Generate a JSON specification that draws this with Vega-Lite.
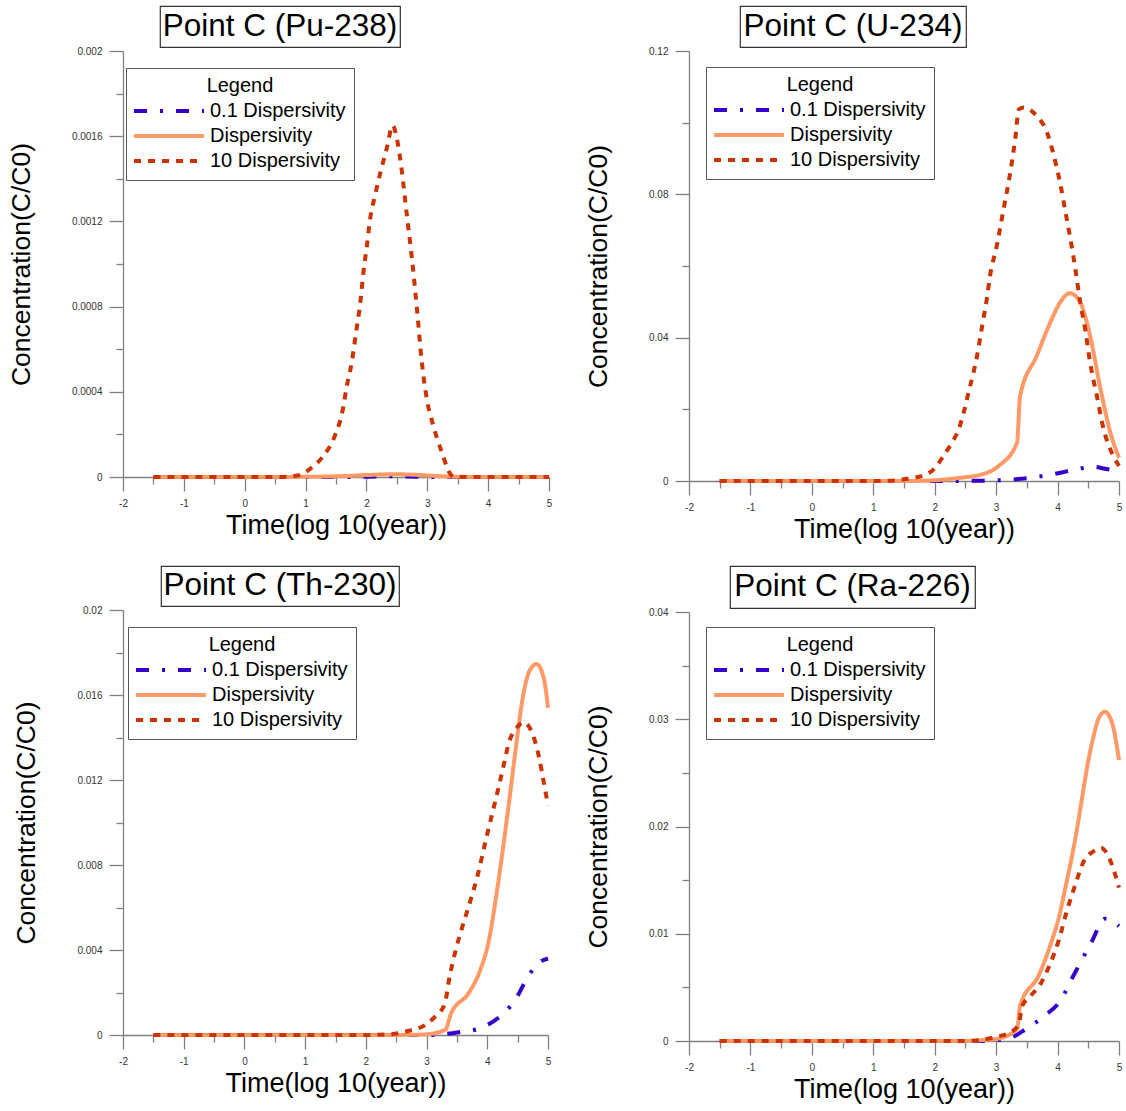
{
"$schema": "https://vega.github.io/schema/vega-lite/v6.json",
"padding": {"left": 8, "top": 5, "right": 2, "bottom": 2},
"background": "white",
"config": {
  "view": {"stroke": null},
  "font": "Liberation Sans",
  "axis": {"grid": false, "domainColor": "#808080", "tickColor": "#808080", "domainWidth": 1.3, "tickWidth": 1.3, "labelColor": "#333", "labelFont": "Liberation Sans", "labelFontSize": 10, "titleFont": "Liberation Sans", "titleFontWeight": "normal", "titleColor": "#000", "labelFlush": false, "labelOverlap": false},
  "axisX": {"titleFontSize": 27, "labelPadding": 7, "titlePadding": 4},
  "axisY": {"titleFontSize": 26.5, "labelPadding": 7},
  "legend": {"titleFontSize": 20, "titleFontWeight": "normal", "titleColor": "#000", "titleFont": "Liberation Sans", "titleAnchor": "middle", "titlePadding": 4, "labelFont": "Liberation Sans", "labelFontSize": 20, "labelColor": "#000", "labelOffset": 4, "symbolOffset": -2, "labelLimit": 400, "symbolType": "stroke", "symbolSize": 4900, "symbolStrokeWidth": 4, "clipHeight": 22, "rowPadding": 3, "padding": 8, "strokeColor": "#555", "fillColor": "white"}
},
"datasets": {
"pu": [
{"series":"0.1 Dispersivity","t":-1.5,"c":0},{"series":"0.1 Dispersivity","t":-1,"c":0},{"series":"0.1 Dispersivity","t":-0.5,"c":0},{"series":"0.1 Dispersivity","t":0,"c":0},{"series":"0.1 Dispersivity","t":0.5,"c":0},{"series":"0.1 Dispersivity","t":1,"c":0},{"series":"0.1 Dispersivity","t":1.5,"c":0},{"series":"0.1 Dispersivity","t":2,"c":0.000001},{"series":"0.1 Dispersivity","t":2.4,"c":0.000003},{"series":"0.1 Dispersivity","t":2.8,"c":0.000001},{"series":"0.1 Dispersivity","t":3.2,"c":0},{"series":"0.1 Dispersivity","t":4,"c":0},{"series":"0.1 Dispersivity","t":5,"c":0},
{"series":"Dispersivity","t":-1.5,"c":0},{"series":"Dispersivity","t":-1,"c":0},{"series":"Dispersivity","t":-0.5,"c":0},{"series":"Dispersivity","t":0,"c":0},{"series":"Dispersivity","t":0.5,"c":0},{"series":"Dispersivity","t":1,"c":0.000001},{"series":"Dispersivity","t":1.5,"c":0.000003},{"series":"Dispersivity","t":2,"c":0.000009},{"series":"Dispersivity","t":2.45,"c":0.000013},{"series":"Dispersivity","t":2.9,"c":0.000009},{"series":"Dispersivity","t":3.2,"c":0.000004},{"series":"Dispersivity","t":3.5,"c":0.000001},{"series":"Dispersivity","t":4,"c":0},{"series":"Dispersivity","t":5,"c":0},
{"series":"10 Dispersivity","t":-1.5,"c":0},{"series":"10 Dispersivity","t":-1,"c":0},{"series":"10 Dispersivity","t":-0.5,"c":0},{"series":"10 Dispersivity","t":0,"c":0},{"series":"10 Dispersivity","t":0.5,"c":0},{"series":"10 Dispersivity","t":0.7,"c":0.000002},{"series":"10 Dispersivity","t":0.885,"c":0.000008},{"series":"10 Dispersivity","t":1.1,"c":0.000044},{"series":"10 Dispersivity","t":1.27,"c":0.000091},{"series":"10 Dispersivity","t":1.49,"c":0.0002},{"series":"10 Dispersivity","t":1.6,"c":0.0003},{"series":"10 Dispersivity","t":1.68,"c":0.00043},{"series":"10 Dispersivity","t":1.76,"c":0.00054},{"series":"10 Dispersivity","t":1.83,"c":0.00068},{"series":"10 Dispersivity","t":1.9,"c":0.00082},{"series":"10 Dispersivity","t":1.95,"c":0.00096},{"series":"10 Dispersivity","t":2.01,"c":0.00109},{"series":"10 Dispersivity","t":2.06,"c":0.00121},{"series":"10 Dispersivity","t":2.14,"c":0.00132},{"series":"10 Dispersivity","t":2.23,"c":0.00143},{"series":"10 Dispersivity","t":2.34,"c":0.00155},{"series":"10 Dispersivity","t":2.43,"c":0.00165},{"series":"10 Dispersivity","t":2.5,"c":0.00159},{"series":"10 Dispersivity","t":2.58,"c":0.00144},{"series":"10 Dispersivity","t":2.66,"c":0.00124},{"series":"10 Dispersivity","t":2.75,"c":0.00102},{"series":"10 Dispersivity","t":2.83,"c":0.00079},{"series":"10 Dispersivity","t":2.91,"c":0.00054},{"series":"10 Dispersivity","t":2.99,"c":0.00037},{"series":"10 Dispersivity","t":3.1,"c":0.00024},{"series":"10 Dispersivity","t":3.24,"c":0.000115},{"series":"10 Dispersivity","t":3.38,"c":0.000013},{"series":"10 Dispersivity","t":3.45,"c":0},{"series":"10 Dispersivity","t":4,"c":0},{"series":"10 Dispersivity","t":4.5,"c":0},{"series":"10 Dispersivity","t":5,"c":0}
],
"u": [
{"series":"0.1 Dispersivity","t":-1.5,"c":0},{"series":"0.1 Dispersivity","t":-1,"c":0},{"series":"0.1 Dispersivity","t":-0.5,"c":0},{"series":"0.1 Dispersivity","t":0,"c":0},{"series":"0.1 Dispersivity","t":0.5,"c":0},{"series":"0.1 Dispersivity","t":1,"c":0},{"series":"0.1 Dispersivity","t":1.5,"c":0},{"series":"0.1 Dispersivity","t":2,"c":0},{"series":"0.1 Dispersivity","t":2.31,"c":0},{"series":"0.1 Dispersivity","t":2.8,"c":0.0001},{"series":"0.1 Dispersivity","t":3.18,"c":0.0003},{"series":"0.1 Dispersivity","t":3.56,"c":0.0009},{"series":"0.1 Dispersivity","t":3.99,"c":0.0021},{"series":"0.1 Dispersivity","t":4.29,"c":0.0032},{"series":"0.1 Dispersivity","t":4.59,"c":0.004},{"series":"0.1 Dispersivity","t":4.75,"c":0.0035},{"series":"0.1 Dispersivity","t":5,"c":0.0028},
{"series":"Dispersivity","t":-1.5,"c":0},{"series":"Dispersivity","t":-1,"c":0},{"series":"Dispersivity","t":-0.5,"c":0},{"series":"Dispersivity","t":0,"c":0},{"series":"Dispersivity","t":0.5,"c":0},{"series":"Dispersivity","t":1,"c":0},{"series":"Dispersivity","t":1.5,"c":0},{"series":"Dispersivity","t":2,"c":0.0002},{"series":"Dispersivity","t":2.2,"c":0.0005},{"series":"Dispersivity","t":2.47,"c":0.001},{"series":"Dispersivity","t":2.74,"c":0.0017},{"series":"Dispersivity","t":3.04,"c":0.0042},{"series":"Dispersivity","t":3.34,"c":0.0107},{"series":"Dispersivity","t":3.39,"c":0.0237},{"series":"Dispersivity","t":3.66,"c":0.0349},{"series":"Dispersivity","t":3.88,"c":0.0442},{"series":"Dispersivity","t":4.04,"c":0.0498},{"series":"Dispersivity","t":4.2,"c":0.0524},{"series":"Dispersivity","t":4.37,"c":0.0498},{"series":"Dispersivity","t":4.53,"c":0.0405},{"series":"Dispersivity","t":4.7,"c":0.0256},{"series":"Dispersivity","t":4.86,"c":0.0135},{"series":"Dispersivity","t":5,"c":0.0065},
{"series":"10 Dispersivity","t":-1.5,"c":0},{"series":"10 Dispersivity","t":-1,"c":0},{"series":"10 Dispersivity","t":-0.5,"c":0},{"series":"10 Dispersivity","t":0,"c":0},{"series":"10 Dispersivity","t":0.5,"c":0},{"series":"10 Dispersivity","t":1,"c":0},{"series":"10 Dispersivity","t":1.3,"c":0.0001},{"series":"10 Dispersivity","t":1.55,"c":0.00065},{"series":"10 Dispersivity","t":1.82,"c":0.0016},{"series":"10 Dispersivity","t":2.01,"c":0.0037},{"series":"10 Dispersivity","t":2.14,"c":0.007},{"series":"10 Dispersivity","t":2.28,"c":0.0107},{"series":"10 Dispersivity","t":2.39,"c":0.0144},{"series":"10 Dispersivity","t":2.47,"c":0.019},{"series":"10 Dispersivity","t":2.55,"c":0.0247},{"series":"10 Dispersivity","t":2.63,"c":0.0302},{"series":"10 Dispersivity","t":2.69,"c":0.035},{"series":"10 Dispersivity","t":2.74,"c":0.04},{"series":"10 Dispersivity","t":2.8,"c":0.046},{"series":"10 Dispersivity","t":2.85,"c":0.051},{"series":"10 Dispersivity","t":2.9,"c":0.0572},{"series":"10 Dispersivity","t":3.01,"c":0.0656},{"series":"10 Dispersivity","t":3.12,"c":0.0758},{"series":"10 Dispersivity","t":3.23,"c":0.0861},{"series":"10 Dispersivity","t":3.31,"c":0.0954},{"series":"10 Dispersivity","t":3.37,"c":0.1037},{"series":"10 Dispersivity","t":3.45,"c":0.1042},{"series":"10 Dispersivity","t":3.66,"c":0.1019},{"series":"10 Dispersivity","t":3.83,"c":0.0972},{"series":"10 Dispersivity","t":3.94,"c":0.0907},{"series":"10 Dispersivity","t":4.04,"c":0.0833},{"series":"10 Dispersivity","t":4.13,"c":0.0749},{"series":"10 Dispersivity","t":4.21,"c":0.0675},{"series":"10 Dispersivity","t":4.29,"c":0.0591},{"series":"10 Dispersivity","t":4.37,"c":0.0498},{"series":"10 Dispersivity","t":4.45,"c":0.0423},{"series":"10 Dispersivity","t":4.53,"c":0.033},{"series":"10 Dispersivity","t":4.64,"c":0.0237},{"series":"10 Dispersivity","t":4.75,"c":0.0144},{"series":"10 Dispersivity","t":4.86,"c":0.0088},{"series":"10 Dispersivity","t":5,"c":0.0042}
],
"th": [
{"series":"0.1 Dispersivity","t":-1.5,"c":0},{"series":"0.1 Dispersivity","t":-1,"c":0},{"series":"0.1 Dispersivity","t":-0.5,"c":0},{"series":"0.1 Dispersivity","t":0,"c":0},{"series":"0.1 Dispersivity","t":0.5,"c":0},{"series":"0.1 Dispersivity","t":1,"c":0},{"series":"0.1 Dispersivity","t":1.5,"c":0},{"series":"0.1 Dispersivity","t":2,"c":0},{"series":"0.1 Dispersivity","t":2.5,"c":0},{"series":"0.1 Dispersivity","t":3.04,"c":0},{"series":"0.1 Dispersivity","t":3.53,"c":0.00013},{"series":"0.1 Dispersivity","t":3.86,"c":0.0003},{"series":"0.1 Dispersivity","t":4,"c":0.00047},{"series":"0.1 Dispersivity","t":4.22,"c":0.0009},{"series":"0.1 Dispersivity","t":4.47,"c":0.0017},{"series":"0.1 Dispersivity","t":4.66,"c":0.0027},{"series":"0.1 Dispersivity","t":4.85,"c":0.0034},{"series":"0.1 Dispersivity","t":5,"c":0.0036},
{"series":"Dispersivity","t":-1.5,"c":0},{"series":"Dispersivity","t":-1,"c":0},{"series":"Dispersivity","t":-0.5,"c":0},{"series":"Dispersivity","t":0,"c":0},{"series":"Dispersivity","t":0.5,"c":0},{"series":"Dispersivity","t":1,"c":0},{"series":"Dispersivity","t":1.5,"c":0},{"series":"Dispersivity","t":2,"c":0},{"series":"Dispersivity","t":2.5,"c":0},{"series":"Dispersivity","t":2.98,"c":0.00003},{"series":"Dispersivity","t":3.31,"c":0.00025},{"series":"Dispersivity","t":3.4,"c":0.00099},{"series":"Dispersivity","t":3.7,"c":0.002},{"series":"Dispersivity","t":3.89,"c":0.0031},{"series":"Dispersivity","t":4.03,"c":0.0045},{"series":"Dispersivity","t":4.14,"c":0.0064},{"series":"Dispersivity","t":4.25,"c":0.0086},{"series":"Dispersivity","t":4.36,"c":0.011},{"series":"Dispersivity","t":4.47,"c":0.0135},{"series":"Dispersivity","t":4.58,"c":0.0158},{"series":"Dispersivity","t":4.69,"c":0.0171},{"series":"Dispersivity","t":4.81,"c":0.01746},{"series":"Dispersivity","t":4.93,"c":0.0168},{"series":"Dispersivity","t":5,"c":0.0154},
{"series":"10 Dispersivity","t":-1.5,"c":0},{"series":"10 Dispersivity","t":-1,"c":0},{"series":"10 Dispersivity","t":-0.5,"c":0},{"series":"10 Dispersivity","t":0,"c":0},{"series":"10 Dispersivity","t":0.5,"c":0},{"series":"10 Dispersivity","t":1,"c":0},{"series":"10 Dispersivity","t":1.5,"c":0},{"series":"10 Dispersivity","t":2,"c":0},{"series":"10 Dispersivity","t":2.38,"c":0.00003},{"series":"10 Dispersivity","t":2.71,"c":0.0002},{"series":"10 Dispersivity","t":2.96,"c":0.00044},{"series":"10 Dispersivity","t":3.15,"c":0.0009},{"series":"10 Dispersivity","t":3.3,"c":0.00146},{"series":"10 Dispersivity","t":3.37,"c":0.0026},{"series":"10 Dispersivity","t":3.48,"c":0.004},{"series":"10 Dispersivity","t":3.59,"c":0.0051},{"series":"10 Dispersivity","t":3.73,"c":0.0064},{"series":"10 Dispersivity","t":3.84,"c":0.0075},{"series":"10 Dispersivity","t":3.97,"c":0.0091},{"series":"10 Dispersivity","t":4.08,"c":0.0104},{"series":"10 Dispersivity","t":4.19,"c":0.0117},{"series":"10 Dispersivity","t":4.27,"c":0.0127},{"series":"10 Dispersivity","t":4.36,"c":0.0138},{"series":"10 Dispersivity","t":4.47,"c":0.0144},{"series":"10 Dispersivity","t":4.6,"c":0.01471},{"series":"10 Dispersivity","t":4.74,"c":0.0142},{"series":"10 Dispersivity","t":4.85,"c":0.0131},{"series":"10 Dispersivity","t":4.93,"c":0.0119},{"series":"10 Dispersivity","t":5,"c":0.0108}
],
"ra": [
{"series":"0.1 Dispersivity","t":-1.5,"c":0},{"series":"0.1 Dispersivity","t":-1,"c":0},{"series":"0.1 Dispersivity","t":-0.5,"c":0},{"series":"0.1 Dispersivity","t":0,"c":0},{"series":"0.1 Dispersivity","t":0.5,"c":0},{"series":"0.1 Dispersivity","t":1,"c":0},{"series":"0.1 Dispersivity","t":1.5,"c":0},{"series":"0.1 Dispersivity","t":2,"c":0},{"series":"0.1 Dispersivity","t":2.5,"c":0},{"series":"0.1 Dispersivity","t":2.8,"c":0},{"series":"0.1 Dispersivity","t":3.23,"c":0.0003},{"series":"0.1 Dispersivity","t":3.48,"c":0.0011},{"series":"0.1 Dispersivity","t":3.8,"c":0.0024},{"series":"0.1 Dispersivity","t":4.05,"c":0.0038},{"series":"0.1 Dispersivity","t":4.24,"c":0.0059},{"series":"0.1 Dispersivity","t":4.4,"c":0.0076},{"series":"0.1 Dispersivity","t":4.56,"c":0.0093},{"series":"0.1 Dispersivity","t":4.77,"c":0.0114},{"series":"0.1 Dispersivity","t":5,"c":0.0107},
{"series":"Dispersivity","t":-1.5,"c":0},{"series":"Dispersivity","t":-1,"c":0},{"series":"Dispersivity","t":-0.5,"c":0},{"series":"Dispersivity","t":0,"c":0},{"series":"Dispersivity","t":0.5,"c":0},{"series":"Dispersivity","t":1,"c":0},{"series":"Dispersivity","t":1.5,"c":0},{"series":"Dispersivity","t":2,"c":0},{"series":"Dispersivity","t":2.5,"c":0},{"series":"Dispersivity","t":2.8,"c":0.0001},{"series":"Dispersivity","t":3.01,"c":0.0002},{"series":"Dispersivity","t":3.34,"c":0.0011},{"series":"Dispersivity","t":3.39,"c":0.0033},{"series":"Dispersivity","t":3.69,"c":0.0061},{"series":"Dispersivity","t":3.88,"c":0.0089},{"series":"Dispersivity","t":4.02,"c":0.0115},{"series":"Dispersivity","t":4.15,"c":0.0149},{"series":"Dispersivity","t":4.29,"c":0.0189},{"series":"Dispersivity","t":4.4,"c":0.0227},{"series":"Dispersivity","t":4.48,"c":0.0255},{"series":"Dispersivity","t":4.59,"c":0.0285},{"series":"Dispersivity","t":4.67,"c":0.0301},{"series":"Dispersivity","t":4.77,"c":0.0307},{"series":"Dispersivity","t":4.89,"c":0.0296},{"series":"Dispersivity","t":5,"c":0.0262},
{"series":"10 Dispersivity","t":-1.5,"c":0},{"series":"10 Dispersivity","t":-1,"c":0},{"series":"10 Dispersivity","t":-0.5,"c":0},{"series":"10 Dispersivity","t":0,"c":0},{"series":"10 Dispersivity","t":0.5,"c":0},{"series":"10 Dispersivity","t":1,"c":0},{"series":"10 Dispersivity","t":1.5,"c":0},{"series":"10 Dispersivity","t":2,"c":0},{"series":"10 Dispersivity","t":2.5,"c":0},{"series":"10 Dispersivity","t":2.74,"c":0.0001},{"series":"10 Dispersivity","t":3.01,"c":0.0004},{"series":"10 Dispersivity","t":3.23,"c":0.0008},{"series":"10 Dispersivity","t":3.37,"c":0.0016},{"series":"10 Dispersivity","t":3.42,"c":0.0032},{"series":"10 Dispersivity","t":3.56,"c":0.0042},{"series":"10 Dispersivity","t":3.72,"c":0.0053},{"series":"10 Dispersivity","t":3.88,"c":0.0072},{"series":"10 Dispersivity","t":4.02,"c":0.0094},{"series":"10 Dispersivity","t":4.15,"c":0.0121},{"series":"10 Dispersivity","t":4.29,"c":0.0146},{"series":"10 Dispersivity","t":4.43,"c":0.0168},{"series":"10 Dispersivity","t":4.59,"c":0.0177},{"series":"10 Dispersivity","t":4.71,"c":0.018},{"series":"10 Dispersivity","t":4.86,"c":0.0168},{"series":"10 Dispersivity","t":5,"c":0.0143}
]
},
"resolve": {"scale": {"color": "independent", "strokeDash": "independent"}, "legend": {"color": "independent", "strokeDash": "independent"}},
"spacing": 23,
"vconcat": [
{
 "spacing": 28,
 "resolve": {"scale": {"color": "independent", "strokeDash": "independent"}, "legend": {"color": "independent", "strokeDash": "independent"}},
 "hconcat": [
  {
   "spacing": -2,
   "resolve": {"scale": {"color": "independent", "strokeDash": "independent"}, "legend": {"color": "independent", "strokeDash": "independent"}},
   "vconcat": [
    {"spacing": 0, "hconcat": [
      {"width": 36, "height": 41, "data": {"values": []}, "mark": {"type": "text"}, "encoding": {}},
      {"width": 240, "height": 41, "view": {"stroke": "#333", "strokeWidth": 1.2}, "data": {"values": [{"label": "Point C (Pu-238)"}]}, "mark": {"type": "text", "fontSize": 31.5, "font": "Liberation Sans", "color": "#000"}, "encoding": {"text": {"field": "label", "type": "nominal"}}}
    ]},
    {"width": 426, "height": 426, "data": {"name": "pu"},
     "mark": {"type": "line", "strokeWidth": 4, "interpolate": "monotone", "strokeCap": "butt"},
     "encoding": {
      "x": {"field": "t", "type": "quantitative", "scale": {"domain": [-2, 5], "nice": false, "zero": false}, "axis": {"title": "Time(log 10(year))", "values": [-2,-1.5,-1,-0.5,0,0.5,1,1.5,2,2.5,3,3.5,4,4.5,5], "tickSize": {"condition": {"test": "abs(datum.value - round(datum.value)) < 0.01", "value": 14}, "value": 7}, "labelExpr": "abs(datum.value - round(datum.value)) < 0.01 ? '' + datum.value : ''"}},
      "y": {"field": "c", "type": "quantitative", "scale": {"domain": [0, 0.002], "nice": false}, "axis": {"title": "Concentration(C/C0)", "titlePadding": 36, "values": [0,0.0002,0.0004,0.0006,0.0008,0.001,0.0012,0.0014,0.0016,0.0018,0.002], "tickSize": {"condition": {"test": "abs(datum.value/0.0004 - round(datum.value/0.0004)) < 0.01", "value": 14}, "value": 7}, "labelExpr": "abs(datum.value/0.0004 - round(datum.value/0.0004)) < 0.01 ? '' + datum.value : ''"}},
      "color": {"field": "series", "type": "nominal", "scale": {"domain": ["0.1 Dispersivity", "Dispersivity", "10 Dispersivity"], "range": ["#3300cc", "#ff9966", "#cc3300"]}, "legend": {"title": "Legend", "orient": "none", "legendX": 3, "legendY": 17}},
      "strokeDash": {"field": "series", "type": "nominal", "scale": {"domain": ["0.1 Dispersivity", "Dispersivity", "10 Dispersivity"], "range": [[13,13,3,13],[1,0],[7,7]]}, "legend": {"title": "Legend", "orient": "none", "legendX": 3, "legendY": 17}}
     }
    }
   ]
  },
  {
   "spacing": -2,
   "resolve": {"scale": {"color": "independent", "strokeDash": "independent"}, "legend": {"color": "independent", "strokeDash": "independent"}},
   "vconcat": [
    {"spacing": 0, "hconcat": [
      {"width": 50, "height": 41, "data": {"values": []}, "mark": {"type": "text"}, "encoding": {}},
      {"width": 226, "height": 41, "view": {"stroke": "#333", "strokeWidth": 1.2}, "data": {"values": [{"label": "Point C (U-234)"}]}, "mark": {"type": "text", "fontSize": 31.5, "font": "Liberation Sans", "color": "#000"}, "encoding": {"text": {"field": "label", "type": "nominal"}}}
    ]},
    {"width": 430, "height": 430, "data": {"name": "u"},
     "mark": {"type": "line", "strokeWidth": 4, "interpolate": "monotone", "strokeCap": "butt"},
     "encoding": {
      "x": {"field": "t", "type": "quantitative", "scale": {"domain": [-2, 5], "nice": false, "zero": false}, "axis": {"title": "Time(log 10(year))", "values": [-2,-1.5,-1,-0.5,0,0.5,1,1.5,2,2.5,3,3.5,4,4.5,5], "tickSize": {"condition": {"test": "abs(datum.value - round(datum.value)) < 0.01", "value": 14}, "value": 7}, "labelExpr": "abs(datum.value - round(datum.value)) < 0.01 ? '' + datum.value : ''"}},
      "y": {"field": "c", "type": "quantitative", "scale": {"domain": [0, 0.12], "nice": false}, "axis": {"title": "Concentration(C/C0)", "titlePadding": 36, "values": [0,0.02,0.04,0.06,0.08,0.1,0.12], "tickSize": {"condition": {"test": "abs(datum.value/0.04 - round(datum.value/0.04)) < 0.01", "value": 14}, "value": 7}, "labelExpr": "abs(datum.value/0.04 - round(datum.value/0.04)) < 0.01 ? '' + datum.value : ''"}},
      "color": {"field": "series", "type": "nominal", "scale": {"domain": ["0.1 Dispersivity", "Dispersivity", "10 Dispersivity"], "range": ["#3300cc", "#ff9966", "#cc3300"]}, "legend": {"title": "Legend", "orient": "none", "legendX": 17, "legendY": 16}},
      "strokeDash": {"field": "series", "type": "nominal", "scale": {"domain": ["0.1 Dispersivity", "Dispersivity", "10 Dispersivity"], "range": [[13,13,3,13],[1,0],[7,7]]}, "legend": {"title": "Legend", "orient": "none", "legendX": 17, "legendY": 16}}
     }
    }
   ]
  }
 ]
},
{
 "spacing": 29,
 "resolve": {"scale": {"color": "independent", "strokeDash": "independent"}, "legend": {"color": "independent", "strokeDash": "independent"}},
 "hconcat": [
  {
   "spacing": -2,
   "resolve": {"scale": {"color": "independent", "strokeDash": "independent"}, "legend": {"color": "independent", "strokeDash": "independent"}},
   "vconcat": [
    {"spacing": 0, "hconcat": [
      {"width": 37, "height": 40, "data": {"values": []}, "mark": {"type": "text"}, "encoding": {}},
      {"width": 238, "height": 40, "view": {"stroke": "#333", "strokeWidth": 1.2}, "data": {"values": [{"label": "Point C (Th-230)"}]}, "mark": {"type": "text", "fontSize": 31.5, "font": "Liberation Sans", "color": "#000"}, "encoding": {"text": {"field": "label", "type": "nominal"}}}
    ]},
    {"width": 425, "height": 425, "data": {"name": "th"},
     "mark": {"type": "line", "strokeWidth": 4, "interpolate": "monotone", "strokeCap": "butt"},
     "encoding": {
      "x": {"field": "t", "type": "quantitative", "scale": {"domain": [-2, 5], "nice": false, "zero": false}, "axis": {"title": "Time(log 10(year))", "values": [-2,-1.5,-1,-0.5,0,0.5,1,1.5,2,2.5,3,3.5,4,4.5,5], "tickSize": {"condition": {"test": "abs(datum.value - round(datum.value)) < 0.01", "value": 14}, "value": 7}, "labelExpr": "abs(datum.value - round(datum.value)) < 0.01 ? '' + datum.value : ''"}},
      "y": {"field": "c", "type": "quantitative", "scale": {"domain": [0, 0.02], "nice": false}, "axis": {"title": "Concentration(C/C0)", "titlePadding": 36, "values": [0,0.002,0.004,0.006,0.008,0.01,0.012,0.014,0.016,0.018,0.02], "tickSize": {"condition": {"test": "abs(datum.value/0.004 - round(datum.value/0.004)) < 0.01", "value": 14}, "value": 7}, "labelExpr": "abs(datum.value/0.004 - round(datum.value/0.004)) < 0.01 ? '' + datum.value : ''"}},
      "color": {"field": "series", "type": "nominal", "scale": {"domain": ["0.1 Dispersivity", "Dispersivity", "10 Dispersivity"], "range": ["#3300cc", "#ff9966", "#cc3300"]}, "legend": {"title": "Legend", "orient": "none", "legendX": 5, "legendY": 17}},
      "strokeDash": {"field": "series", "type": "nominal", "scale": {"domain": ["0.1 Dispersivity", "Dispersivity", "10 Dispersivity"], "range": [[13,13,3,13],[1,0],[7,7]]}, "legend": {"title": "Legend", "orient": "none", "legendX": 5, "legendY": 17}}
     }
    }
   ]
  },
  {
   "spacing": -2,
   "resolve": {"scale": {"color": "independent", "strokeDash": "independent"}, "legend": {"color": "independent", "strokeDash": "independent"}},
   "vconcat": [
    {"spacing": 0, "hconcat": [
      {"width": 40, "height": 42, "data": {"values": []}, "mark": {"type": "text"}, "encoding": {}},
      {"width": 245, "height": 42, "view": {"stroke": "#333", "strokeWidth": 1.2}, "data": {"values": [{"label": "Point C (Ra-226)"}]}, "mark": {"type": "text", "fontSize": 31.5, "font": "Liberation Sans", "color": "#000"}, "encoding": {"text": {"field": "label", "type": "nominal"}}}
    ]},
    {"width": 430, "height": 429, "data": {"name": "ra"},
     "mark": {"type": "line", "strokeWidth": 4, "interpolate": "monotone", "strokeCap": "butt"},
     "encoding": {
      "x": {"field": "t", "type": "quantitative", "scale": {"domain": [-2, 5], "nice": false, "zero": false}, "axis": {"title": "Time(log 10(year))", "values": [-2,-1.5,-1,-0.5,0,0.5,1,1.5,2,2.5,3,3.5,4,4.5,5], "tickSize": {"condition": {"test": "abs(datum.value - round(datum.value)) < 0.01", "value": 14}, "value": 7}, "labelExpr": "abs(datum.value - round(datum.value)) < 0.01 ? '' + datum.value : ''"}},
      "y": {"field": "c", "type": "quantitative", "scale": {"domain": [0, 0.04], "nice": false}, "axis": {"title": "Concentration(C/C0)", "titlePadding": 36, "values": [0,0.005,0.01,0.015,0.02,0.025,0.03,0.035,0.04], "tickSize": {"condition": {"test": "abs(datum.value/0.01 - round(datum.value/0.01)) < 0.01", "value": 14}, "value": 7}, "labelExpr": "abs(datum.value/0.01 - round(datum.value/0.01)) < 0.01 ? '' + datum.value : ''"}},
      "color": {"field": "series", "type": "nominal", "scale": {"domain": ["0.1 Dispersivity", "Dispersivity", "10 Dispersivity"], "range": ["#3300cc", "#ff9966", "#cc3300"]}, "legend": {"title": "Legend", "orient": "none", "legendX": 17, "legendY": 15}},
      "strokeDash": {"field": "series", "type": "nominal", "scale": {"domain": ["0.1 Dispersivity", "Dispersivity", "10 Dispersivity"], "range": [[13,13,3,13],[1,0],[7,7]]}, "legend": {"title": "Legend", "orient": "none", "legendX": 17, "legendY": 15}}
     }
    }
   ]
  }
 ]
}
]
}
